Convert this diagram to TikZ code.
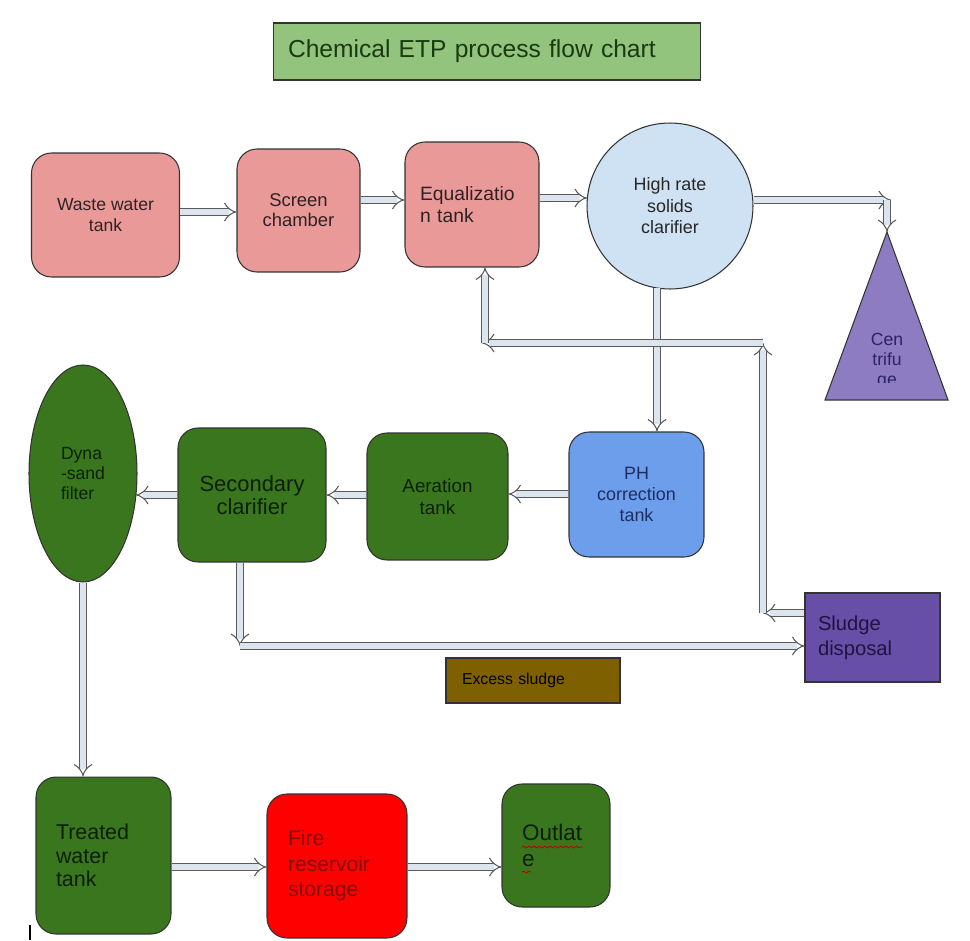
\documentclass[tikz,border=0pt]{standalone}
\usepackage{fontspec}
\setmainfont{Liberation Sans}
\usepackage{tikz}
\usetikzlibrary{shapes.geometric,arrows.meta,decorations.pathmorphing}

\definecolor{salmon}{HTML}{EA9999}
\definecolor{clarblue}{HTML}{CFE2F3}
\definecolor{cenpurple}{HTML}{8E7CC3}
\definecolor{phblue}{HTML}{6D9EEB}
\definecolor{tankgreen}{HTML}{3A761D}
\definecolor{sludgepurple}{HTML}{674EA7}
\definecolor{sludgebrown}{HTML}{7F6000}
\definecolor{titlegreen}{HTML}{93C47D}
\definecolor{pipefill}{HTML}{DCE5EE}
\definecolor{pipeedge}{HTML}{5A5A5A}
\definecolor{pinktext}{HTML}{2E2222}
\definecolor{greentext}{HTML}{0B2006}
\definecolor{titletext}{HTML}{1A3A10}
\definecolor{phtext}{HTML}{1F2D63}
\definecolor{centext}{HTML}{2A2266}
\definecolor{sludgetext}{HTML}{1E1440}
\definecolor{firetext}{HTML}{850A0A}

\begin{document}
\begin{tikzpicture}[x=0.02cm, y=-0.02cm]

	\tikzstyle{tank}=[draw=black!80, line width=0.6pt, rounded corners=0.4cm, inner sep=0pt, align=center]
	\tikzstyle{flat box}=[draw=black!80, line width=0.6pt, inner sep=0pt]
	\tikzstyle{pipe}=[draw=pipeedge, line width=0.6pt, double=pipefill, double distance=3.2pt, -{Implies}]

	\useasboundingbox (0,0) rectangle (970,940);

	%title
	\node [flat box, fill=titlegreen, minimum width=8.56cm, minimum height=1.14cm, text width=7.96cm, align=left, text=titletext, font=\fontsize{14}{17}\selectfont] (title) at (487,51.5) {Chemical ETP process flow chart};

	%top row
	\node [tank, fill=salmon, minimum width=2.96cm, minimum height=2.48cm, text=pinktext, font=\fontsize{10}{12}\selectfont] (waste) at (105.5,215) {Waste water\\tank};
	\node [tank, fill=salmon, minimum width=2.46cm, minimum height=2.46cm, text=pinktext, font=\fontsize{10.5}{11.5}\selectfont] (screen) at (298.5,210.5) {Screen\\chamber};
	\node [tank, fill=salmon, minimum width=2.68cm, minimum height=2.5cm, text width=2.08cm, align=left, text=pinktext, font=\fontsize{11}{12.5}\selectfont] (equal) at (472,204.5) {Equalizatio\\n tank};
	\node [draw=black!80, line width=0.6pt, circle, fill=clarblue, minimum size=3.32cm, inner sep=0pt, align=center, text=black!85, font=\fontsize{10.2}{12.2}\selectfont] (clarifier) at (670,206) {High rate\\solids\\clarifier};

	%centrifuge
	\coordinate (cenTop) at (887,232);
	\draw [draw=black!80, line width=0.6pt, fill=cenpurple] (825,400) -- (cenTop) -- (948,400) -- cycle;
	\begin{scope}
		\clip (820,240) rectangle (955,382);
		\node [align=center, text=centext, font=\fontsize{10}{11.3}\selectfont] (centrifuge) at (887,361) {Cen\\trifu\\ge};
	\end{scope}

	%middle row
	\node [tank, fill=phblue, minimum width=2.7cm, minimum height=2.5cm, text=phtext, font=\fontsize{10.2}{12}\selectfont] (ph) at (636.5,494.5) {PH\\correction\\tank};
	\node [tank, fill=tankgreen, minimum width=2.82cm, minimum height=2.54cm, text=greentext, font=\fontsize{10.7}{12.5}\selectfont] (aeration) at (437.5,496.5) {Aeration\\tank};
	\node [tank, fill=tankgreen, minimum width=2.96cm, minimum height=2.68cm, text=greentext, font=\fontsize{12.5}{12.8}\selectfont] (secondary) at (252,495) {Secondary\\clarifier};
	\node [draw=black!80, line width=0.6pt, ellipse, fill=tankgreen, minimum width=2.16cm, minimum height=4.34cm, inner sep=0pt, align=left, text=greentext, font=\fontsize{10}{11.6}\selectfont] (dyna) at (83,473.5) {Dyna\\-sand\\filter};

	%sludge boxes
	\node [flat box, fill=sludgepurple, minimum width=2.7cm, minimum height=1.78cm, text width=2.18cm, align=left, text=sludgetext, font=\fontsize{11.5}{14}\selectfont] (sludge) at (872.5,637.5) {Sludge\\disposal};
	\node [flat box, fill=sludgebrown, minimum width=3.48cm, minimum height=0.9cm, text width=2.84cm, align=left, text=black, font=\fontsize{9}{11}\selectfont] (excess) at (533,680.5) {Excess sludge};

	%bottom row
	\node [tank, fill=tankgreen, minimum width=2.7cm, minimum height=3.14cm, text width=1.9cm, align=left, text=greentext, font=\fontsize{12.2}{13.5}\selectfont] (treated) at (103.5,855.5) {Treated\\water\\tank};
	\node [tank, fill=red, minimum width=2.8cm, minimum height=2.88cm, text width=1.96cm, align=left, text=firetext, font=\fontsize{12}{14.5}\selectfont] (fire) at (337,866) {Fire\\reservoir\\storage};
	\node [tank, fill=tankgreen, minimum width=2.16cm, minimum height=2.46cm, text width=1.36cm, align=left, text=greentext, font=\fontsize{12.8}{14.5}\selectfont] (outlate) at (556,845.5) {Outlat\\e};

	%spelling marks under outlate
	\draw [red!75!black, line width=0.5pt, decorate, decoration={snake, amplitude=0.5pt, segment length=3pt}] (522,847) -- (583,847);
	\draw [red!75!black, line width=0.5pt, decorate, decoration={snake, amplitude=0.5pt, segment length=3pt}] (522,872) -- (531,872);

	%cursor
	\draw [black, line width=0.6pt] (30,925) -- (30,940);

	%corner points of the pipes
	\coordinate (cenBend) at (887,200);
	\coordinate (excBend) at (240,646);
	\coordinate (retA) at (763,613);
	\coordinate (retB) at (763,343);
	\coordinate (retC) at (482,343);

	%main flow
	\draw [pipe] (waste.east |- 0,212) -- (screen.west |- 0,212);
	\draw [pipe] (screen.east |- 0,200) -- (equal.west |- 0,200);
	\draw [pipe] (equal.east |- 0,198) -- (587,198);
	\draw [pipe] (clarifier.east |- 0,200) -- (891,200);
	\draw [pipe] (cenBend) -- (cenTop);
	\draw [pipe] (657,288) -- (ph.north -| 657,0);
	\draw [pipe] (ph.west |- 0,494) -- (aeration.east |- 0,494);
	\draw [pipe] (aeration.west |- 0,495) -- (secondary.east |- 0,495);
	\draw [pipe] (secondary.west |- 0,495) -- (136,495);
	\draw [pipe] (dyna.south) -- (treated.north -| dyna.south);
	\draw [pipe] (treated.east |- 0,867) -- (fire.west |- 0,867);
	\draw [pipe] (fire.east |- 0,867) -- (outlate.west |- 0,867);

	%excess sludge line
	\draw [pipe] (secondary.south -| excBend) -- (excBend);
	\draw [pipe] (excBend) -- (sludge.west |- excBend);

	%return line to equalization tank
	\draw [pipe] (sludge.west |- retA) -- (retA);
	\draw [pipe] (retA) -- (retB);
	\draw [pipe] (retB) -- (retC);
	\draw [pipe] (485,343) -- (equal.south -| 485,0);

\end{tikzpicture}
\end{document}
